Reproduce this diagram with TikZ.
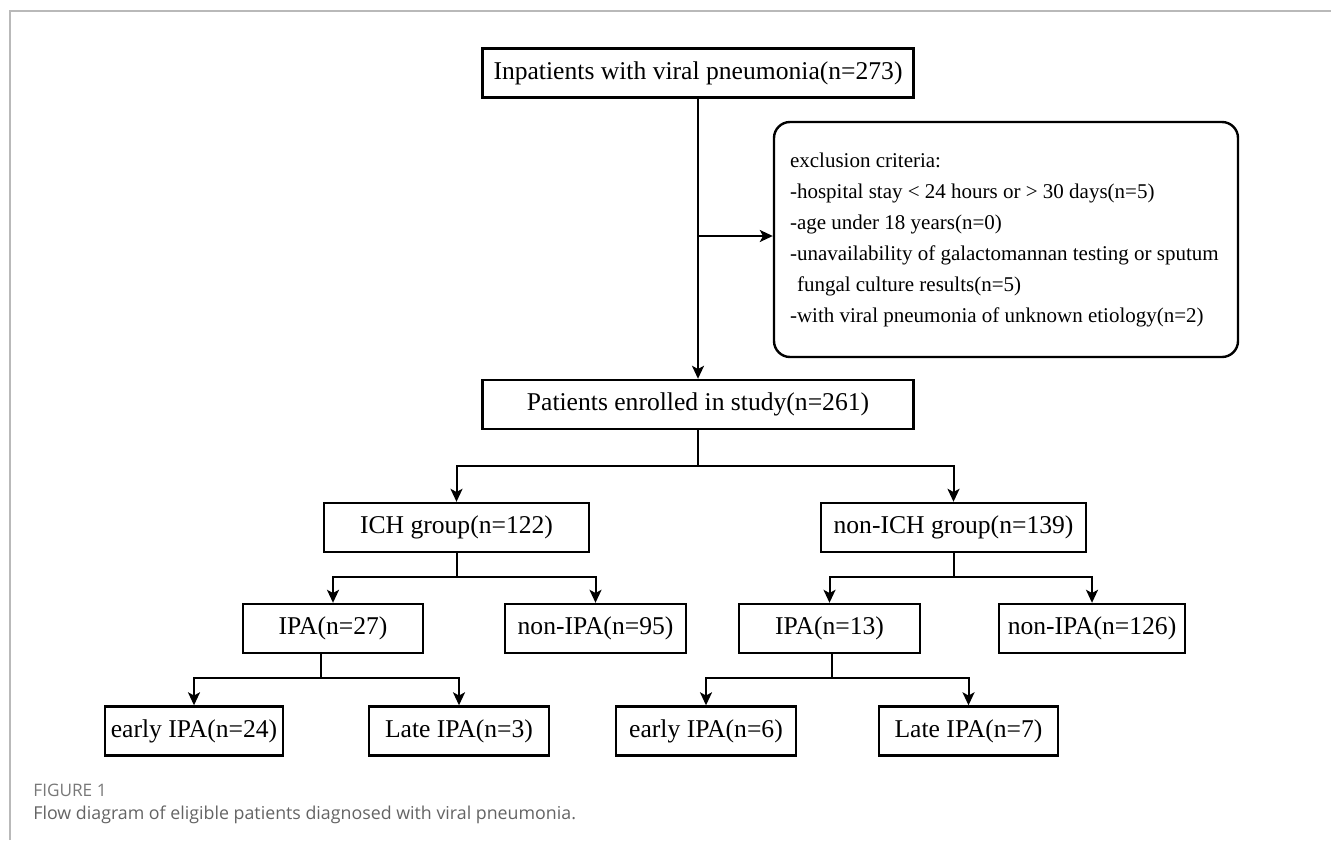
\documentclass[tikz,border=0pt]{standalone}
\usepackage{fontspec}
\setmainfont{Liberation Serif}
\newfontfamily\capfont{Open Sans}
\usetikzlibrary{arrows.meta}
\definecolor{framegray}{RGB}{185,185,185}
\definecolor{figgray}{RGB}{120,120,120}
\definecolor{capgray}{RGB}{100,100,100}
\begin{document}
\begin{tikzpicture}[x=0.5pt,y=-0.5pt,
  box/.style={draw, line width=1.2pt, minimum height=24.5pt, inner sep=0pt,
    font=\fontsize{12.8}{15}\selectfont},
  arr/.style={line width=1pt, -{Stealth[length=6.5pt,width=6pt,inset=1.6pt]}},
  ln/.style={line width=1pt}]
\useasboundingbox (0,0) rectangle (1331,840);
\draw[line width=1pt, framegray] (9.5,840) -- (9.5,11) -- (1331,11);

\node[box, minimum width=215.5pt] (top) at (698,73) {Inpatients with viral pneumonia(n=273)};
\node[box, rounded corners=8pt, minimum width=232pt, minimum height=117.5pt,
  align=flush left, text width=216pt, inner xsep=8pt,
  font=\fontsize{10.5}{15.5}\selectfont] (excl) at (1006,239.5)
  {exclusion criteria:\\
   -hospital stay < 24 hours or > 30 days(n=5)\\
   -age under 18 years(n=0)\\
   -unavailability of galactomannan testing or sputum\\
   \hspace*{3.5pt}fungal culture results(n=5)\\
   -with viral pneumonia of unknown etiology(n=2)};
\node[box, minimum width=215.5pt] (enr) at (698,404.5) {Patients enrolled in study(n=261)};
\node[box, minimum width=132.5pt] (ich) at (456.5,527.5) {ICH group(n=122)};
\node[box, minimum width=132.5pt] (nich) at (953.5,527.5) {non-ICH group(n=139)};
\node[box, minimum width=90pt] (ipaA) at (333,628.5) {IPA(n=27)};
\node[box, minimum width=90.5pt] (nipaA) at (595.5,628.5) {non-IPA(n=95)};
\node[box, minimum width=90.5pt] (ipaB) at (829.5,628.5) {IPA(n=13)};
\node[box, minimum width=93pt] (nipaB) at (1092,628.5) {non-IPA(n=126)};
\node[box, minimum width=89pt] (eA) at (194,731) {early IPA(n=24)};
\node[box, minimum width=90pt] (lA) at (459,731) {Late IPA(n=3)};
\node[box, minimum width=90pt] (eB) at (706,731) {early IPA(n=6)};
\node[box, minimum width=89.5pt] (lB) at (968.5,731) {Late IPA(n=7)};

\draw[arr] (top) -- (enr);
\coordinate (j1) at (698,236);
\draw[arr] (j1) -- (j1 -| excl.west);

\coordinate (b1) at (698,466);
\draw[ln] (enr.south) -- (b1);
\draw[arr] (b1) -| (ich.north);
\draw[arr] (b1) -| (nich.north);

\coordinate (b2) at (456.5,577);
\draw[ln] (ich.south) -- (b2);
\draw[arr] (b2) -| (ipaA.north);
\draw[arr] (b2) -| (nipaA.north);

\coordinate (b3) at (953.5,577);
\draw[ln] (nich.south) -- (b3);
\draw[arr] (b3) -| (ipaB.north);
\draw[arr] (b3) -| (nipaB.north);

\coordinate (b4) at (321,678);
\draw[ln] (b4 |- ipaA.south) -- (b4);
\draw[arr] (b4) -| (eA.north);
\draw[arr] (b4) -| (lA.north);

\coordinate (b5) at (832,678);
\draw[ln] (b5 |- ipaB.south) -- (b5);
\draw[arr] (b5) -| (eB.north);
\draw[arr] (b5) -| (lB.north);

\node[anchor=west, inner sep=0pt, text=figgray,
  font=\capfont\fontsize{8.6}{10}\selectfont] (fig) at (33,790) {FIGURE 1};
\node[anchor=west, inner sep=0pt, text=capgray,
  font=\capfont\fontsize{8.9}{10}\selectfont] (cap) at (33,815)
  {Flow diagram of eligible patients diagnosed with viral pneumonia.};
\end{tikzpicture}
\end{document}
